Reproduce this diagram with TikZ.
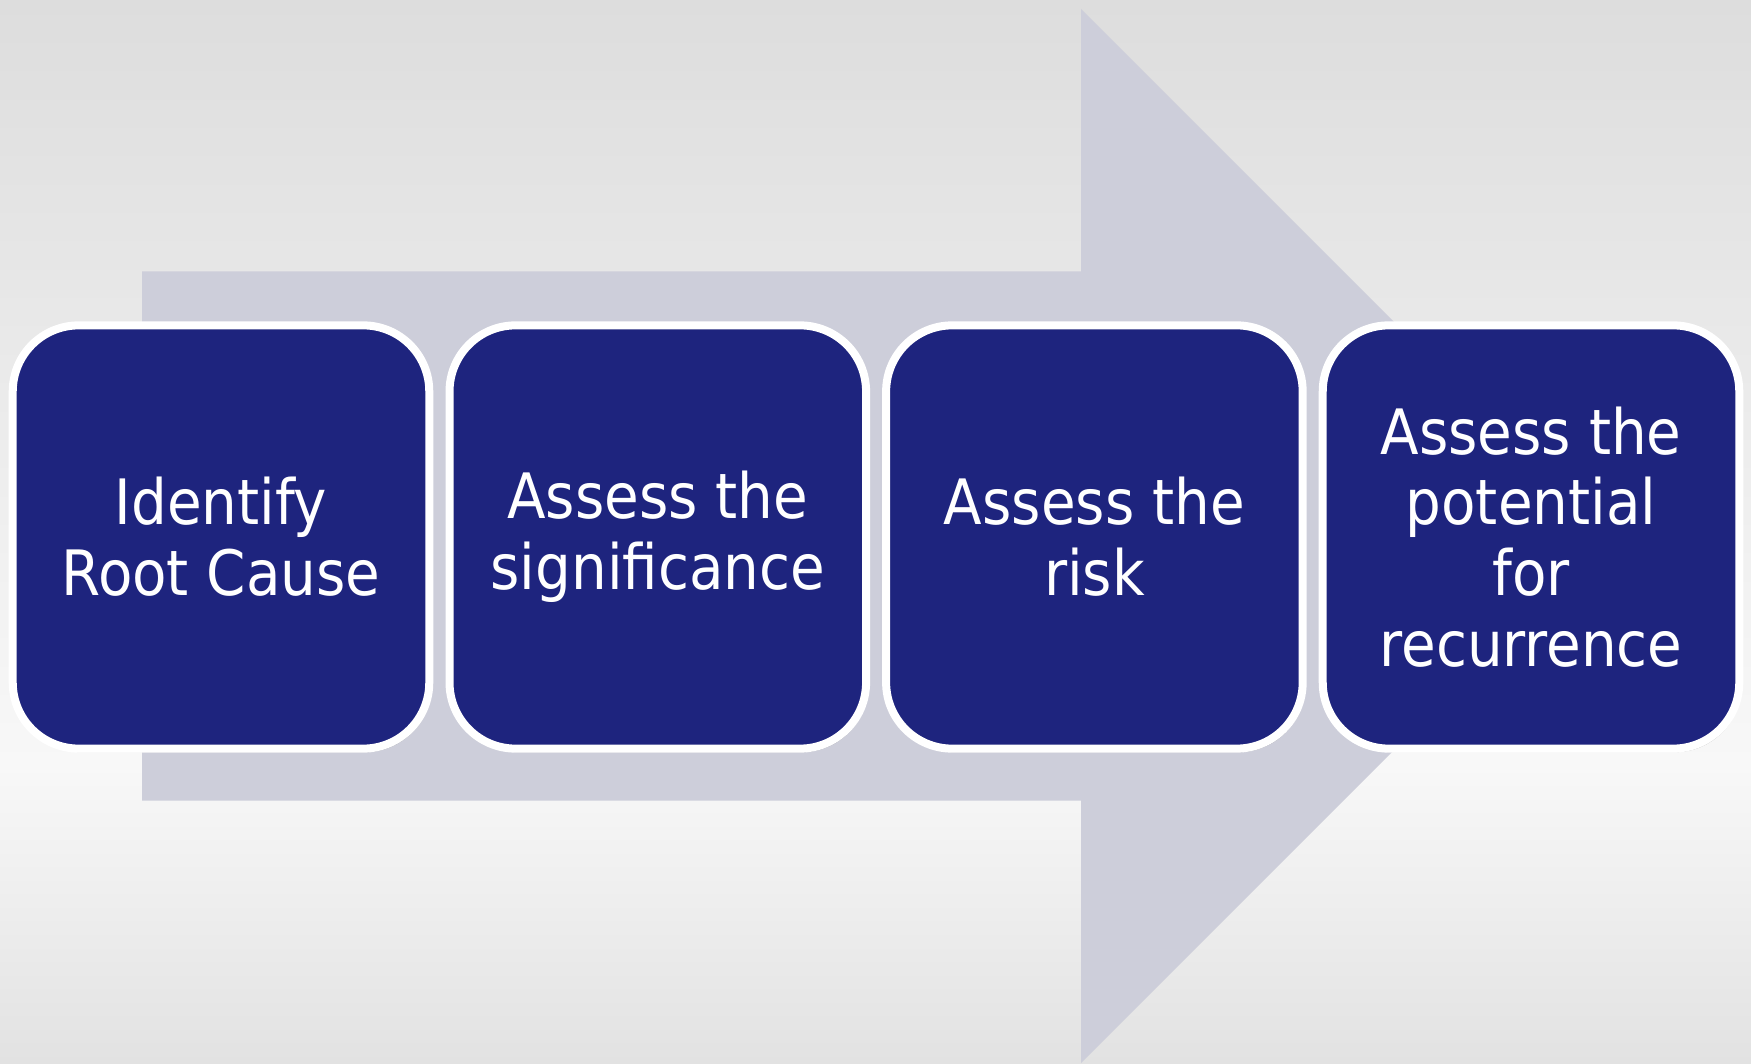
\documentclass[tikz,border=0pt]{standalone}
\usepackage{fontspec}
\setmainfont{DejaVu Sans Condensed}
\usetikzlibrary{shadows}

\definecolor{stageblue}{RGB}{30,36,126}
\definecolor{arrowgray}{RGB}{205,206,218}
\definecolor{bgtop}{RGB}{221,221,221}
\definecolor{bglight}{RGB}{248,248,248}
\definecolor{bgbottom}{RGB}{226,226,226}
\pgfdeclareverticalshading{bgfade}{100bp}{color(0bp)=(bgbottom); color(25bp)=(bgbottom); color(39bp)=(bglight); color(75bp)=(bgtop); color(100bp)=(bgtop)}

\begin{document}
\begin{tikzpicture}[x=0.01cm,y=0.01cm]
        \tikzset{stage/.style={rectangle, rounded corners=0.66cm, draw=white, line width=0.08cm,
                fill=stageblue, text=white, align=center, inner sep=0pt,
                minimum width=4.163cm, minimum height=4.23cm,
                font=\fontsize{17.8}{20.1}\selectfont,
                drop shadow={shadow xshift=0.02cm, shadow yshift=-0.035cm, opacity=0.3, fill=black}}}

        % backdrop
        \shade[shading=bgfade] (0,0) rectangle (1751,1063);
        \useasboundingbox (0,0) rectangle (1751,1063);

        % big arrow behind the stages
        \fill[arrowgray] (142,262.3) -- (1081,262.3) -- (1081,0) -- (1608,527)
                -- (1081,1054) -- (1081,791.6) -- (142,791.6) -- cycle;

        \node[stage] (cause) at (221,526) {Identify\\Root Cause};
        \node[stage] (significance) at (657.8,526) {Assess the\\significance};
        \node[stage] (risk) at (1094.4,526) {Assess the\\risk};
        \node[stage] (recurrence) at (1531,526) {Assess the\\potential\\for\\recurrence};
    \end{tikzpicture}
\end{document}
